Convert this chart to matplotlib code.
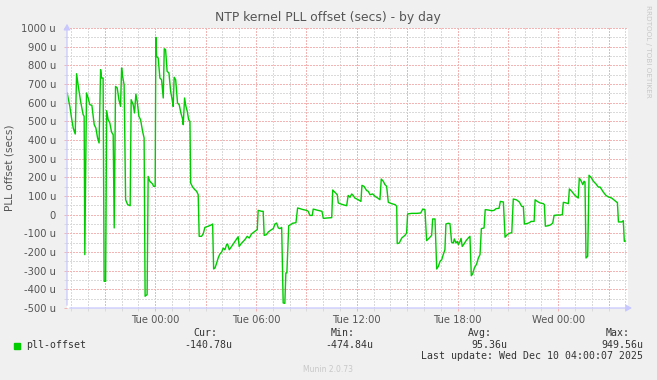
import numpy as np
import matplotlib
matplotlib.use("Agg")
import matplotlib.pyplot as plt
from matplotlib.ticker import FixedLocator, MultipleLocator

# hours relative to Tue 00:00, offset in micro-seconds
hours = [-5.24, -5.08, -4.98, -4.88, -4.76, -4.68, -4.59, -4.44, -4.29, -4.23,
         -4.19, -4.09, -3.99, -3.89, -3.77, -3.63, -3.53, -3.43, -3.34, -3.25,
         -3.19, -3.10, -3.04, -2.95, -2.89, -2.80, -2.70, -2.60, -2.50, -2.44,
         -2.36, -2.26, -2.16, -2.06, -2.00, -1.94, -1.85, -1.76, -1.64, -1.49,
         -1.43, -1.31, -1.23, -1.15, -1.07, -0.97, -0.87, -0.75, -0.66, -0.60,
         -0.48, -0.42, -0.32, -0.15, -0.10, 0.00, 0.04, 0.08, 0.18, 0.28,
         0.38, 0.48, 0.54, 0.62, 0.71, 0.82, 0.92, 1.01, 1.07, 1.13,
         1.22, 1.33, 1.43, 1.53, 1.63, 1.67, 1.75, 1.83, 1.91, 1.99,
         2.07, 2.11, 2.23, 2.36, 2.47, 2.56, 2.62, 2.76, 2.86, 2.96,
         3.16, 3.36, 3.42, 3.48, 3.56, 3.66, 3.75, 3.85, 3.95, 4.05,
         4.15, 4.25, 4.31, 4.41, 4.55, 4.75, 4.91, 4.94, 5.00, 5.15,
         5.34, 5.48, 5.60, 5.74, 5.94, 6.08, 6.13, 6.34, 6.43, 6.49,
         6.63, 6.73, 6.93, 7.03, 7.13, 7.23, 7.33, 7.43, 7.53, 7.62,
         7.72, 7.78, 7.84, 7.95, 8.06, 8.18, 8.38, 8.48, 8.62, 8.81,
         9.02, 9.11, 9.21, 9.35, 9.41, 9.61, 9.81, 9.93, 10.01, 10.21,
         10.51, 10.57, 10.70, 10.84, 10.90, 11.00, 11.16, 11.40, 11.49, 11.60,
         11.70, 11.79, 11.89, 12.09, 12.25, 12.31, 12.43, 12.59, 12.69, 12.79,
         12.95, 13.09, 13.25, 13.38, 13.46, 13.58, 13.68, 13.78, 13.88, 14.08,
         14.28, 14.38, 14.41, 14.53, 14.68, 14.87, 14.97, 15.03, 15.27, 15.57,
         15.81, 15.93, 16.06, 16.16, 16.32, 16.46, 16.52, 16.66, 16.76, 16.86,
         16.96, 17.06, 17.15, 17.25, 17.31, 17.45, 17.55, 17.65, 17.75, 17.81,
         17.91, 17.99, 18.05, 18.15, 18.21, 18.28, 18.39, 18.51, 18.64, 18.74,
         18.82, 18.90, 19.00, 19.14, 19.24, 19.34, 19.42, 19.58, 19.65, 19.83,
         20.04, 20.17, 20.29, 20.47, 20.55, 20.73, 20.83, 20.96, 21.08, 21.23,
         21.32, 21.52, 21.68, 21.82, 21.92, 21.98, 22.12, 22.28, 22.38, 22.56,
         22.62, 22.75, 22.91, 23.11, 23.17, 23.23, 23.41, 23.55, 23.67, 23.75,
         23.91, 24.10, 24.24, 24.30, 24.46, 24.60, 24.66, 24.80, 24.96, 25.10,
         25.19, 25.25, 25.35, 25.46, 25.53, 25.59, 25.65, 25.75, 25.83, 25.95,
         26.09, 26.25, 26.38, 26.49, 26.59, 26.68, 26.84, 26.98, 27.18, 27.34,
         27.52, 27.58, 27.78, 27.87, 27.93, 27.99]
offset = [652, 580, 518, 464, 432, 755, 696, 607, 536, 527,
          -214, 652, 625, 589, 586, 482, 464, 411, 384, 777,
          732, 732, -357, -357, 557, 509, 491, 443, 428, -71,
          687, 679, 616, 580, 786, 741, 696, 80, 54, 48,
          616, 589, 545, 646, 607, 527, 509, 446, 411, -437,
          -428, 205, 179, 164, 152, 152, 950, 848, 839, 732,
          723, 625, 889, 884, 768, 759, 661, 616, 580, 736,
          723, 598, 589, 545, 513, 482, 625, 580, 554, 509,
          500, 170, 148, 134, 125, 107, -116, -116, -103, -68,
          -62, -54, -50, -291, -286, -259, -232, -211, -202, -179,
          -188, -161, -157, -188, -170, -143, -122, -118, -170, -152,
          -134, -116, -125, -103, -89, -80, 23, 18, 18, -111,
          -107, -93, -80, -75, -50, -45, -71, -75, -68, -473,
          -475, -312, -312, -59, -54, -46, -43, 36, 32, 27,
          23, 18, -4, -4, 30, 25, 21, 18, -20, -18,
          -16, 132, 120, 107, 63, 59, 54, 48, 103, 93,
          111, 103, 89, 80, 71, 157, 152, 129, 125, 107,
          111, 98, 89, 80, 191, 179, 161, 152, 66, 59,
          54, 45, -155, -152, -125, -111, -98, 4, 7, 7,
          9, 30, 27, -139, -125, -111, -23, -23, -291, -277,
          -250, -241, -214, -188, -50, -46, -48, -148, -152, -130,
          -152, -143, -161, -143, -127, -170, -157, -139, -125, -116,
          -327, -318, -286, -264, -232, -214, -75, -71, 27, 25,
          21, 23, 32, 34, 71, 68, -121, -107, -100, -96,
          84, 79, 68, 45, 43, -50, -48, -43, -36, -36,
          80, 71, 63, 59, 54, -62, -59, -54, -45, -4,
          -2, -2, 0, 66, 63, 59, 138, 125, 107, 95,
          89, 196, 182, 161, 179, 175, -232, -223, 211, 200,
          179, 164, 148, 148, 134, 121, 103, 95, 89, 77,
          64, -39, -39, -32, -143, -141]

x_ticks = [0, 6, 12, 18, 24]
x_labels = ["Tue 00:00", "Tue 06:00", "Tue 12:00", "Tue 18:00", "Wed 00:00"]
y_ticks = [1000, 900, 800, 700, 600, 500, 400, 300, 200, 100, 0,
           -100, -200, -300, -400, -500]
y_labels = ["1000 u", "900 u", "800 u", "700 u", "600 u", "500 u", "400 u",
            "300 u", "200 u", "100 u", "0", "-100 u", "-200 u", "-300 u",
            "-400 u", "-500 u"]

legend_name = "pll-offset"
stats = [("Cur:", "-140.78u"), ("Min:", "-474.84u"),
         ("Avg:", "95.36u"), ("Max:", "949.56u")]
last_update = "Last update: Wed Dec 10 04:00:07 2025"

W, H = 657, 380
fig = plt.figure(figsize=(W / 100, H / 100), dpi=100, facecolor="#f0f0f0")
L, R, T, B = 67, 628, 28, 308
ax = fig.add_axes([L / W, 1 - B / H, (R - L) / W, (B - T) / H])
ax.set_facecolor("white")

ax.set_xlim(-5.25, 28.15)
ax.set_ylim(-500, 1000)

# dotted rrdtool-style grid: 1px on, 1px off, no antialiasing
minor_c = "#dadada"
major_c = "#f4b4b4"
dot = (0, (1.4, 1.4))
for h in np.arange(-5, 29, 1):
    ax.axvline(h, color=major_c if h % 3 == 0 else minor_c, lw=0.72,
               ls=dot, antialiased=False, zorder=1)
for v in np.arange(-450, 1001, 50):
    ax.axhline(v, color=major_c if v % 100 == 0 else minor_c, lw=0.72,
               ls=dot, antialiased=False, zorder=1)

ax.plot(hours, offset, color="#00cc00", lw=1.0, zorder=3)

ax.xaxis.set_major_locator(FixedLocator(x_ticks))
ax.set_xticklabels(x_labels)
ax.xaxis.set_minor_locator(MultipleLocator(1))
ax.yaxis.set_major_locator(FixedLocator(y_ticks))
ax.set_yticklabels(y_labels)
ax.yaxis.set_minor_locator(MultipleLocator(50))
ax.tick_params(axis="both", which="major", length=2, width=0.7,
               color=major_c, labelsize=7.2, labelcolor="#555555", pad=3)
ax.tick_params(axis="both", which="minor", length=2, width=0.7, color=minor_c)
ax.tick_params(axis="y", which="major", pad=6)
for s in ax.spines.values():
    s.set_visible(False)

# axis lines with arrows (munin style)
axis_c = "#c8c8ff"
ax.annotate("", xy=(0, 1.025), xytext=(0, 0), xycoords="axes fraction",
            arrowprops=dict(arrowstyle="-|>,head_length=0.35,head_width=0.2",
                            color=axis_c, lw=0.9), zorder=5)
ax.annotate("", xy=(1.012, 0), xytext=(0, 0), xycoords="axes fraction",
            arrowprops=dict(arrowstyle="-|>,head_length=0.35,head_width=0.2",
                            color=axis_c, lw=0.9), zorder=5)

fig.text(328 / W, 1 - 18 / H, "NTP kernel PLL offset (secs) - by day",
         ha="center", va="center", fontsize=8.9, color="#555555")
fig.text(10 / W, 1 - 168 / H, "PLL offset (secs)", rotation=90,
         ha="center", va="center", fontsize=7.6, color="#555555")
fig.text(648 / W, 1 - 5 / H, "RRDTOOL / TOBI OETIKER", rotation=270,
         ha="center", va="top", fontsize=5.2, color="#c8c8c8")
fig.text(328 / W, 1 - 369 / H, "Munin 2.0.73", ha="center", va="center",
         fontsize=5.5, color="#c8c8c8")

mono = "DejaVu Sans Mono"
fs = 7.1
fig.patches.append(plt.Rectangle((14 / W, 1 - 349 / H), 6 / W, 6 / H,
                                 transform=fig.transFigure, color="#00cc00"))
fig.text(26 / W, 1 - 345 / H, legend_name, family=mono, fontsize=fs,
         color="#333333", va="center")
head_right = [217, 355, 492, 630]
val_right = [232, 373, 507, 643]
for (hd, val), hr, vr in zip(stats, head_right, val_right):
    fig.text(hr / W, 1 - 333 / H, hd, family=mono, fontsize=fs,
             color="#333333", ha="right", va="center")
    fig.text(vr / W, 1 - 345 / H, val, family=mono, fontsize=fs,
             color="#333333", ha="right", va="center")
fig.text(643 / W, 1 - 356 / H, last_update, family=mono, fontsize=fs,
         color="#333333", ha="right", va="center")

fig.savefig("out.png", dpi=100, facecolor=fig.get_facecolor())
